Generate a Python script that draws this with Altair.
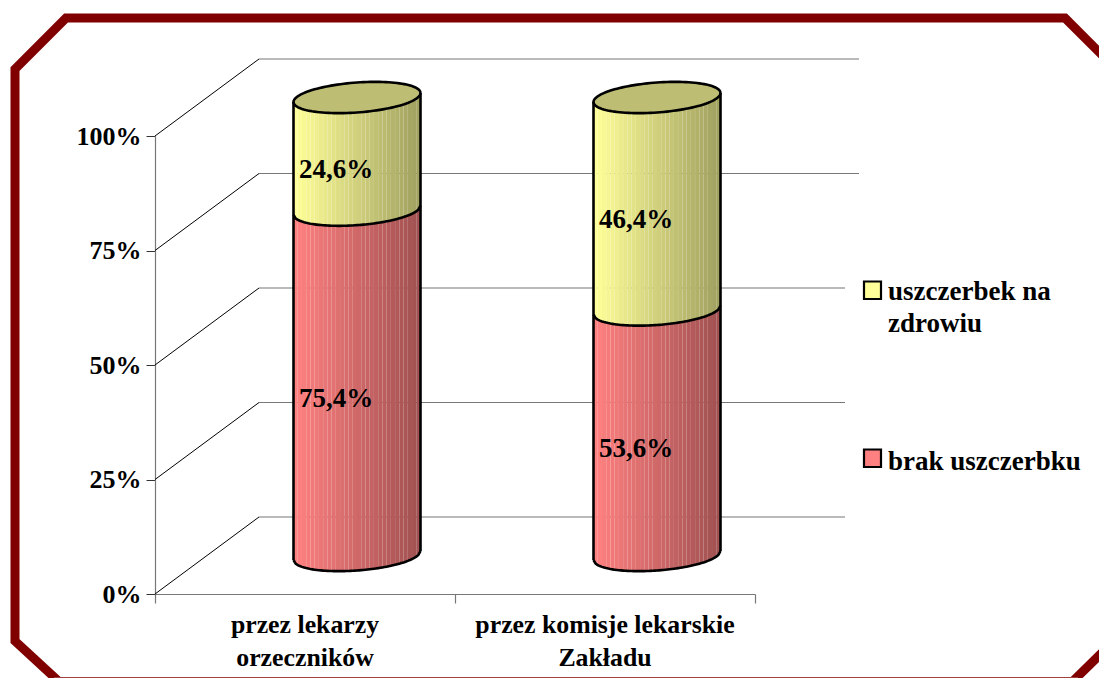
import math
import altair as alt
import pandas as pd

CATEGORIES = ["przez lekarzy\norzeczników", "przez komisje lekarskie\nZakładu"]
BRAK = [75.4, 53.6]
USZCZERBEK = [24.6, 46.4]
TICKS = [0, 25, 50, 75, 100]
SERIES_BRAK = "brak uszczerbku"
SERIES_USZ = ["uszczerbek na", "zdrowiu"]

W, H = 1091, 670
FONT = "Liberation Serif"
# 3D projection in data units
DEPTH_X = 104 / 300
DEPTH_Y = 77 / 4.58
RX = 63.5 / 300
RY = 15 / 4.58
TILT = 4.5 / 4.58
N = 30

x_scale = alt.Scale(domain=[0, 2], range=[147, 747], zero=False, nice=False)
y_scale = alt.Scale(domain=[0, 100], range=[586, 128], zero=False, nice=False)
x_axis = alt.Axis(
    values=[0, 1, 2], labels=False, title=None, grid=False, offset=-(H - 586), tickSize=9,
    domainColor="#777777", tickColor="#777777", domainWidth=1.2, tickWidth=1.2)
y_axis = alt.Axis(
    values=TICKS, title=None, grid=False, offset=-147, tickSize=9, labelPadding=5,
    labelExpr="datum.value + '%'", labelFont=FONT, labelFontSize=26, labelFontWeight="bold",
    labelColor="#000000", domainColor="#777777", tickColor="#333333", domainWidth=1.2, tickWidth=1)


def X(f="x", **kw):
    return alt.X(f"{f}:Q", scale=x_scale, axis=x_axis, **kw)


def Y(f="y", **kw):
    return alt.Y(f"{f}:Q", scale=y_scale, axis=y_axis, **kw)


def front(v, u):
    return v + DEPTH_Y / 2 - RY * math.sqrt(max(0, 1 - u * u)) + TILT * u


def back(v, u):
    return v + DEPTH_Y / 2 + RY * math.sqrt(max(0, 1 - u * u)) + TILT * u


strips, paths, caps, labels, diag, horiz = [], [], [], [], [], []
YELLOW = (255, 255, 153)
RED = (255, 128, 128)
CAP = "#bdbd73"

for c in range(len(CATEGORIES)):
    cx = c + 0.5 + DEPTH_X / 2
    b, u = BRAK[c], USZCZERBEK[c]
    for seg, (lo, hi, col) in enumerate([(0, b, RED), (b, b + u, YELLOW)]):
        for i in range(N):
            f = 1 - 0.37 * i / (N - 1)
            fill = "#%02x%02x%02x" % tuple(round(ch * f) for ch in col)
            for uu in (-1 + 2 * i / N, -1 + 2 * (i + 1) / N):
                strips.append(dict(sid=f"{c}-{seg}-{i}", x=cx + RX * uu,
                                   y=front(lo, uu), y2=front(hi, uu), fill=fill))
        labels.append(dict(x=cx, y=(lo + hi) / 2 + DEPTH_Y / 2,
                           t=f"{hi - lo:.1f}%".replace(".", ",")))
    top = b + u
    steps = 60
    for j in range(steps + 1):
        uu = -1 + 2 * j / steps
        caps.append(dict(c=c, x=cx + RX * uu, y=back(top, uu), y2=front(top, uu)))
    # outlines
    for k, v in enumerate([0, b]):
        for j in range(steps + 1):
            uu = -1 + 2 * j / steps
            paths.append(dict(p=f"{c}-arc{k}", i=j, x=cx + RX * uu, y=front(v, uu)))
    for j in range(2 * steps + 1):
        t = 2 * math.pi * j / (2 * steps)
        uu = math.cos(t)
        paths.append(dict(p=f"{c}-top", i=j, x=cx + RX * uu,
                          y=top + DEPTH_Y / 2 + RY * math.sin(t) + TILT * uu))
    for s in (-1, 1):
        paths.append(dict(p=f"{c}-side{s}", i=0, x=cx + s * RX, y=front(0, s)))
        paths.append(dict(p=f"{c}-side{s}", i=1, x=cx + s * RX, y=front(top, s)))

for t in TICKS:
    diag += [dict(t=t, i=0, x=0, y=t), dict(t=t, i=1, x=DEPTH_X, y=t + DEPTH_Y)]
    horiz += [dict(t=t, i=0, x=DEPTH_X, y=t + DEPTH_Y), dict(t=t, i=1, x=2 + DEPTH_X, y=t + DEPTH_Y)]

df_cat = pd.DataFrame({"x": [i + 0.5 for i in range(len(CATEGORIES))], "t": CATEGORIES})

axes = alt.Chart(pd.DataFrame({"x": [0, 2], "y": [0, 100]})).mark_point(opacity=0).encode(x=X(), y=Y())

grid_d = alt.Chart(pd.DataFrame(diag)).mark_line(color="#000000", strokeWidth=1).encode(
    x=X(), y=Y(), detail="t:N", order="i:Q")
grid_h = alt.Chart(pd.DataFrame(horiz)).mark_line(color="#777777", strokeWidth=1.2).encode(
    x=X(), y=Y(), detail="t:N", order="i:Q")

cover = alt.Chart().mark_rect(color="#ffffff").encode(
    x=alt.value(837), x2=alt.value(1085), y=alt.value(190), y2=alt.value(530))

bands = alt.Chart(pd.DataFrame(strips)).mark_area(strokeWidth=0).encode(
    x=X(), y=Y(), y2="y2:Q", detail="sid:N", color=alt.Color("fill:N", scale=None, legend=None))

cap = alt.Chart(pd.DataFrame(caps)).mark_area(color=CAP).encode(
    x=X(), y=Y(), y2="y2:Q", detail="c:N")

outline = alt.Chart(pd.DataFrame(paths)).mark_line(color="#000000", strokeWidth=2.6).encode(
    x=X(), y=Y(), detail="p:N", order="i:Q")

value_text = alt.Chart(pd.DataFrame(labels)).mark_text(
    font=FONT, fontSize=27, fontWeight="bold", color="#000000", dx=-21, dy=16).encode(
    x=X(), y=Y(), text="t:N")

cat_text = alt.Chart(df_cat).mark_text(
    font=FONT, fontSize=25.8, fontWeight="bold", color="#000000", baseline="middle",
    lineBreak="\n", lineHeight=33).encode(
    x=X(), y=alt.value(617), text="t:N")

frame_pts = [(7, 300), (7, 61), (58, 10), (1057, 10), (1110, 63), (1110, 629), (1058, 680),
             (59, 681), (7, 633), (7, 300)]
frame = alt.Chart(pd.DataFrame(
    [dict(i=i, px=p[0], py=p[1]) for i, p in enumerate(frame_pts)])).mark_line(
    color="#800000", strokeWidth=9, strokeJoin="miter").encode(
    x=alt.X("px:Q", scale=None, axis=None), y=alt.Y("py:Q", scale=None, axis=None), order="i:Q")
frame_bottom = alt.Chart().mark_rule(color="#a04040", strokeWidth=1).encode(
    x=alt.value(46), x2=alt.value(1070), y=alt.value(669.5))


def legend_box(top, fill):
    return alt.Chart().mark_rect(color=fill, stroke="#000000", strokeWidth=2.2).encode(
        x=alt.value(856), x2=alt.value(873), y=alt.value(top), y2=alt.value(top + 17.5))


def legend_text(text, yy):
    return alt.Chart().mark_text(font=FONT, fontSize=27, fontWeight="bold", color="#000000",
                                 align="left", baseline="middle", text=text).encode(
        x=alt.value(880), y=alt.value(yy))


chart = alt.layer(
    axes, grid_d, grid_h, cover, bands, cap, outline, value_text, cat_text, frame, frame_bottom,
    legend_box(273.5, "#ffff99"), legend_box(441.5, "#ff8080"),
    legend_text(SERIES_USZ[0], 284), legend_text(SERIES_USZ[1], 316), legend_text(SERIES_BRAK, 453.5),
).properties(
    width=W, height=H, padding=0, autosize=alt.AutoSizeParams(type="none"),
    background="#ffffff",
).configure_view(stroke=None)

chart.save("out.html", embed_options={"renderer": "svg", "actions": False})
